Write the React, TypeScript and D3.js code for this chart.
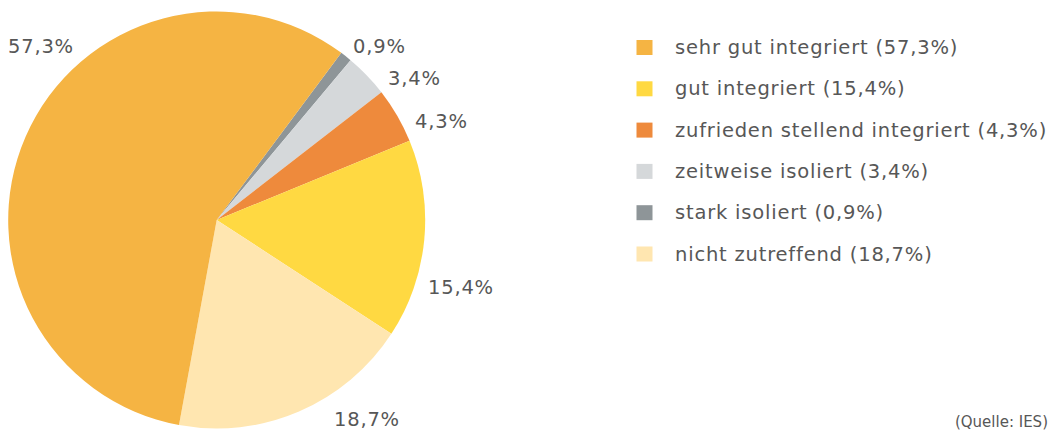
import React from "react";
import * as d3 from "d3";

const categories = [
  "sehr gut integriert",
  "gut integriert",
  "zufrieden stellend integriert",
  "zeitweise isoliert",
  "stark isoliert",
  "nicht zutreffend",
];
const values = [57.3, 15.4, 4.3, 3.4, 0.9, 18.7];
const colors = ["#F5B443", "#FFD942", "#EE8A3C", "#D5D8DA", "#8E9598", "#FFE6B0"];
// clockwise drawing order starting at the top-right boundary
const drawOrder = [4, 3, 2, 1, 5, 0];
// label anchor positions (text start, vertical center) per category
const labelPos: [number, number][] = [
  [8, 46],
  [428, 287],
  [415, 121],
  [388, 78],
  [353, 46],
  [334, 419],
];
const source = "(Quelle: IES)";

const W = 1052;
const H = 431;
const cx = 216.7;
const cy = 220;
const R = 208.5;
const startDeg = 36.7;
const FONT = "'DejaVu Sans', sans-serif";
const TEXT = "#575757";
const FS = 19.5;
const LS = 0.8;

const fmt = (v: number) => v.toFixed(1).replace(".", ",") + "%";

export default function App() {
  const ordered = drawOrder.map((i) => ({ i, v: values[i] }));
  const start = (startDeg * Math.PI) / 180;
  const pie = d3
    .pie<{ i: number; v: number }>()
    .value((d) => d.v)
    .sort(null)
    .startAngle(start)
    .endAngle(start + 2 * Math.PI);
  const arcs = pie(ordered);
  const arcGen = d3.arc<d3.PieArcDatum<{ i: number; v: number }>>().innerRadius(0).outerRadius(R);

  const legendY = d3.scalePoint<number>().domain(d3.range(categories.length)).range([47.5, 254]);

  return (
    <svg
      width={W}
      height={H}
      style={{ position: "absolute", left: 0, top: 0, background: "#fff" }}
      fontFamily={FONT}
    >
      <g transform={`translate(${cx},${cy})`}>
        {arcs.map((a) => (
          <path key={a.data.i} d={arcGen(a) || ""} fill={colors[a.data.i]} />
        ))}
      </g>
      {values.map((v, i) => (
        <text
          key={"l" + i}
          x={labelPos[i][0]}
          y={labelPos[i][1]}
          dominantBaseline="central"
          fontSize={FS}
          letterSpacing={LS}
          fill={TEXT}
        >
          {fmt(v)}
        </text>
      ))}
      {categories.map((c, i) => (
        <g key={"g" + i} transform={`translate(0,${legendY(i)})`}>
          <rect x={636.5} y={-7.5} width={16} height={15} fill={colors[i]} />
          <text x={675} y={0} dominantBaseline="central" fontSize={FS} letterSpacing={LS} fill={TEXT}>
            {`${c} (${fmt(values[i])})`}
          </text>
        </g>
      ))}
      <text x={1048} y={422} textAnchor="end" dominantBaseline="central" fontSize={15} fill={TEXT}>
        {source}
      </text>
    </svg>
  );
}
